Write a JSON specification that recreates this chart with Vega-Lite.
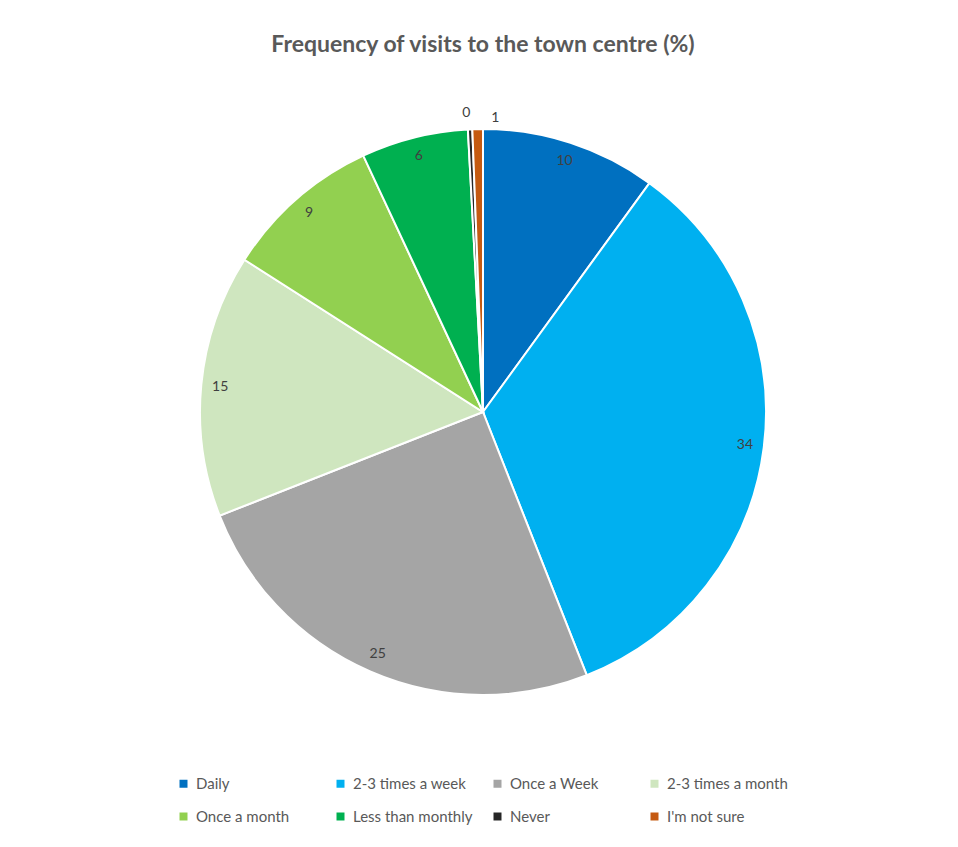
{
  "$schema": "https://vega.github.io/schema/vega-lite/v6.json",
  "width": 950,
  "height": 824,
  "autosize": {"type": "none"},
  "padding": {"left": 8, "top": 0, "right": 0, "bottom": 23},
  "background": "white",
  "config": {"view": {"stroke": null}, "font": "Lato"},
  "title": {
    "text": "Frequency of visits to the town centre (%)",
    "fontSize": 23,
    "font": "Lato",
    "fontWeight": "bold",
    "color": "#595959",
    "anchor": "middle",
    "orient": "top",
    "baseline": "bottom",
    "offset": -80
  },
  "data": {
    "values": [
      {"idx": 1, "category": "Daily", "value": 10},
      {"idx": 2, "category": "2-3 times a week", "value": 34},
      {"idx": 3, "category": "Once a Week", "value": 25},
      {"idx": 4, "category": "2-3 times a month", "value": 15},
      {"idx": 5, "category": "Once a month", "value": 9},
      {"idx": 6, "category": "Less than monthly", "value": 6.1},
      {"idx": 7, "category": "Never", "value": 0.25},
      {"idx": 8, "category": "I'm not sure", "value": 0.6}
    ]
  },
  "encoding": {
    "theta": {"field": "value", "type": "quantitative", "stack": true},
    "order": {"field": "idx", "type": "quantitative"}
  },
  "layer": [
    {
      "mark": {"type": "arc", "outerRadius": 283, "stroke": "white", "strokeWidth": 2},
      "encoding": {
        "color": {
          "field": "category",
          "type": "nominal",
          "scale": {
            "domain": ["Daily", "2-3 times a week", "Once a Week", "2-3 times a month", "Once a month", "Less than monthly", "Never", "I'm not sure"],
            "range": ["#0070C0", "#00B0F0", "#A5A5A5", "#CFE6BF", "#92D050", "#00B050", "#262626", "#C55A11"]
          },
          "legend": {
            "orient": "none",
            "legendX": 168,
            "legendY": 776,
            "direction": "horizontal",
            "columns": 4,
            "title": null,
            "symbolType": "square",
            "symbolSize": 64,
            "symbolStrokeWidth": 0,
            "labelFontSize": 15,
            "labelFont": "Lato",
            "labelColor": "#595959",
            "labelOffset": 5,
            "rowPadding": 17,
            "columnPadding": 16,
            "gridAlign": "all",
            "padding": 0,
            "labelLimit": 200
          }
        }
      }
    },
    {
      "mark": {"type": "text", "radius": 264, "fontSize": 14, "color": "#404040", "font": "Lato"},
      "encoding": {
        "text": {
          "condition": {"test": "datum.value < 2", "value": ""},
          "field": "value",
          "type": "quantitative",
          "format": ".0f"
        }
      }
    },
    {
      "mark": {"type": "text", "radius": 302, "fontSize": 14, "color": "#404040", "font": "Lato", "dx": -3, "dy": 3},
      "encoding": {
        "text": {
          "condition": {"test": "datum.category !== 'Never'", "value": ""},
          "field": "value",
          "type": "quantitative",
          "format": ".0f"
        }
      }
    },
    {
      "mark": {"type": "text", "radius": 296, "fontSize": 14, "color": "#404040", "font": "Lato", "dx": 18, "dy": 2},
      "encoding": {
        "text": {
          "condition": {"test": "datum.category !== \"I'm not sure\"", "value": ""},
          "field": "value",
          "type": "quantitative",
          "format": ".0f"
        }
      }
    }
  ]
}
